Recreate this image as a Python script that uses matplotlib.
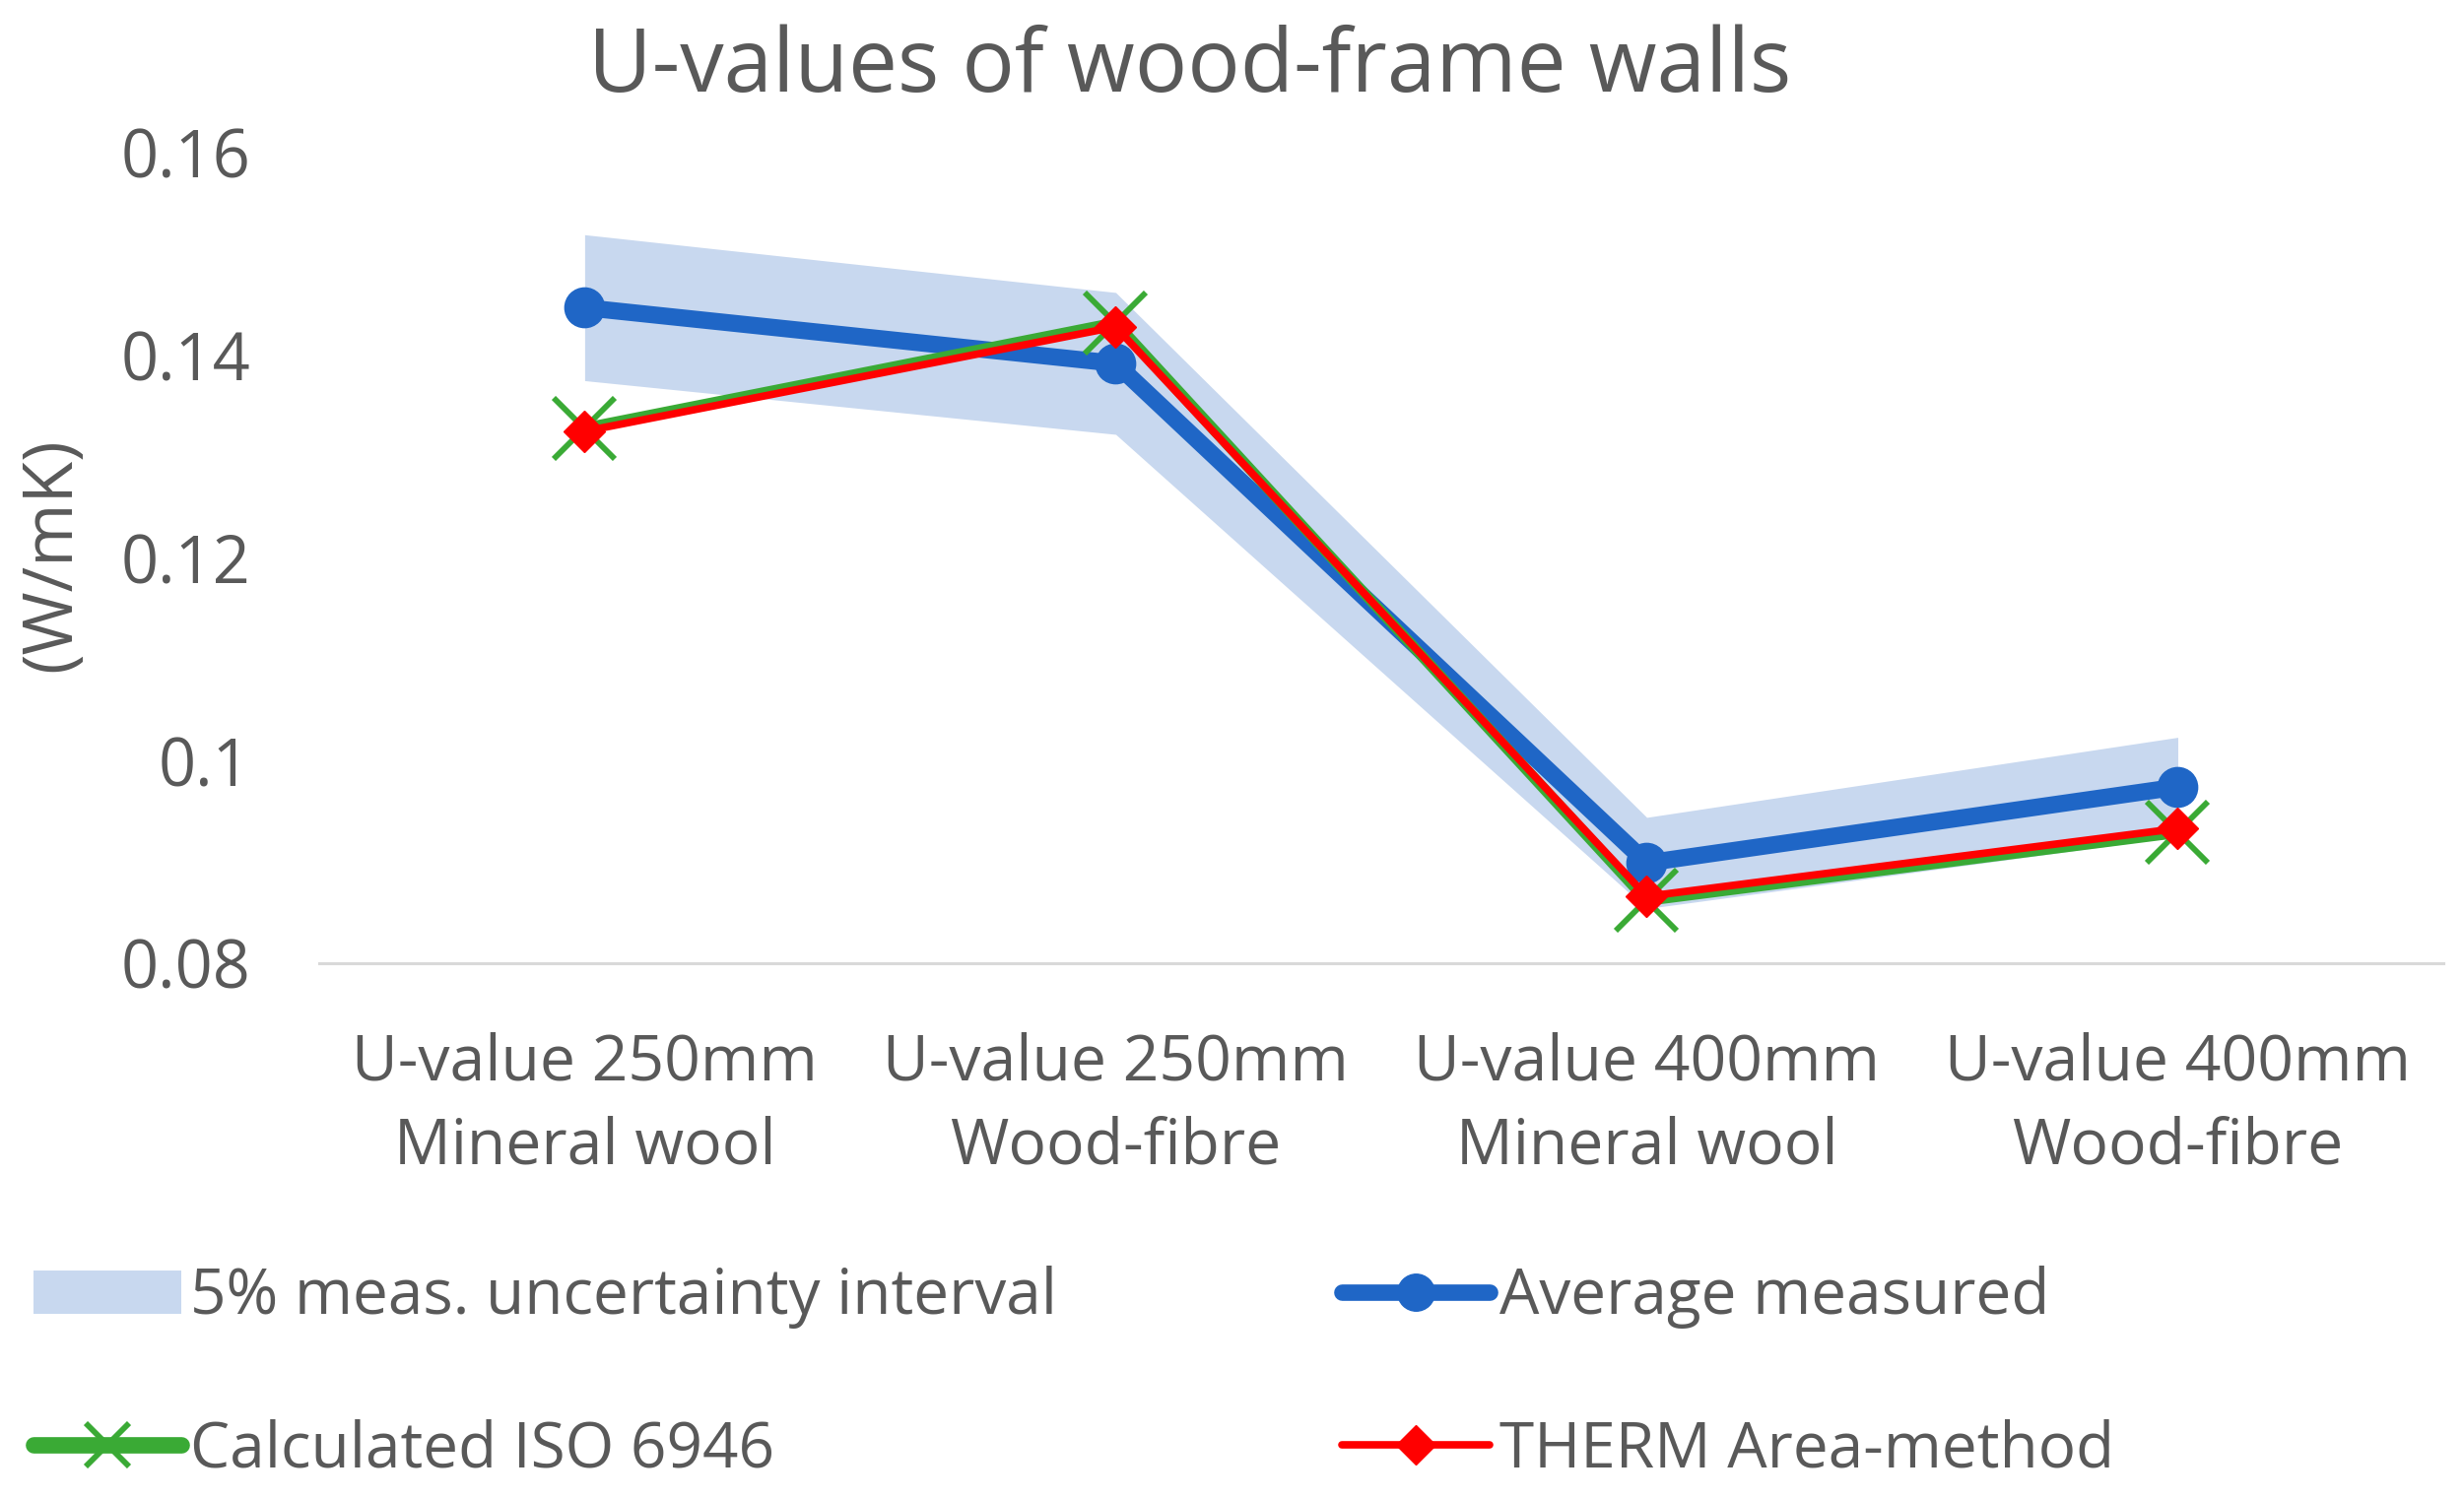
import numpy as np
import matplotlib
matplotlib.use("Agg")
import matplotlib.pyplot as plt
from matplotlib.patches import Patch
from matplotlib.lines import Line2D

# values
categories = ["U-value 250mm\nMineral wool", "U-value 250mm\nWood-fibre",
              "U-value 400mm\nMineral wool", "U-value 400mm\nWood-fibre"]
avg_measured = [0.1447, 0.1392, 0.0899, 0.0974]
band_lower = [0.1375, 0.1322, 0.0854, 0.0925]
band_upper = [0.1519, 0.1462, 0.0944, 0.1023]
calc_iso = [0.1328, 0.1432, 0.0862, 0.0929]
therm_area = [0.1325, 0.1428, 0.0866, 0.0933]
y_ticks = [0.08, 0.1, 0.12, 0.14, 0.16]
y_ticklabels = ["0.08", "0.1", "0.12", "0.14", "0.16"]

plt.rcParams["font.family"] = ["Open Sans", "DejaVu Sans"]
text_col = "#595959"
band_col = "#C8D8EF"
blue = "#1F66C6"
green = "#3AAA35"
red = "#FF0000"

fig = plt.figure(figsize=(25.01, 15.22), dpi=100)
ax = fig.add_axes([0.1295, 0.3574, 0.8621, 0.5408])

x = np.arange(len(categories))
ax.fill_between(x, band_lower, band_upper, color=band_col, linewidth=0, zorder=1)
ax.plot(x, avg_measured, color=blue, lw=12.5, marker="o", ms=29, zorder=3)
ax.plot(x, calc_iso, color=green, lw=8, marker="x", ms=44, mew=4.2, zorder=4)
ax.plot(x, therm_area, color=red, lw=5.5, marker="D", ms=21, zorder=5)

ax.set_xlim(-0.5, 3.5)
ax.set_ylim(0.08, 0.16)
ax.set_yticks(y_ticks)
ax.set_yticklabels(y_ticklabels)
ax.set_xticks(x)
ax.set_xticklabels(categories, linespacing=1.43)
ax.tick_params(axis="both", length=0, labelcolor=text_col)
ax.tick_params(axis="x", labelsize=46.3, pad=50)
ax.tick_params(axis="y", labelsize=48, pad=50)
for s in ["top", "right", "left"]:
    ax.spines[s].set_visible(False)
ax.spines["bottom"].set_color("#D9D9D9")
ax.spines["bottom"].set_linewidth(2.2)

fig.text(0.483, 0.939, "U-values of wood-frame walls", ha="center", va="baseline",
         fontsize=64, color=text_col)
fig.text(0.0212, 0.63, "(W/mK)", rotation=90, ha="center", va="center",
         fontsize=50, color=text_col)

# legend: two columns, placed separately
h_band = Patch(facecolor=band_col, edgecolor="none")
h_iso = Line2D([], [], color=green, lw=12, marker="x", ms=32, mew=4.2,
               solid_capstyle="round")
h_avg = Line2D([], [], color=blue, lw=12, marker="o", ms=27, solid_capstyle="round")
h_therm = Line2D([], [], color=red, lw=5.5, marker="D", ms=20, solid_capstyle="round")

leg_kw = dict(loc="center left", frameon=False, fontsize=46, borderpad=0,
              borderaxespad=0, handlelength=2.35, handletextpad=0.15,
              labelspacing=1.43)
leg1 = fig.legend([h_band, h_iso], ["5% meas. uncertainty interval", "Calculated ISO 6946"],
                  bbox_to_anchor=(0.0135, 0.0835), **leg_kw)
leg2 = fig.legend([h_avg, h_therm], ["Average measured", "THERM Area-method"],
                  bbox_to_anchor=(0.5445, 0.0835), **leg_kw)
for leg in (leg1, leg2):
    for t in leg.get_texts():
        t.set_color(text_col)

fig.savefig("out.png", dpi=100)
